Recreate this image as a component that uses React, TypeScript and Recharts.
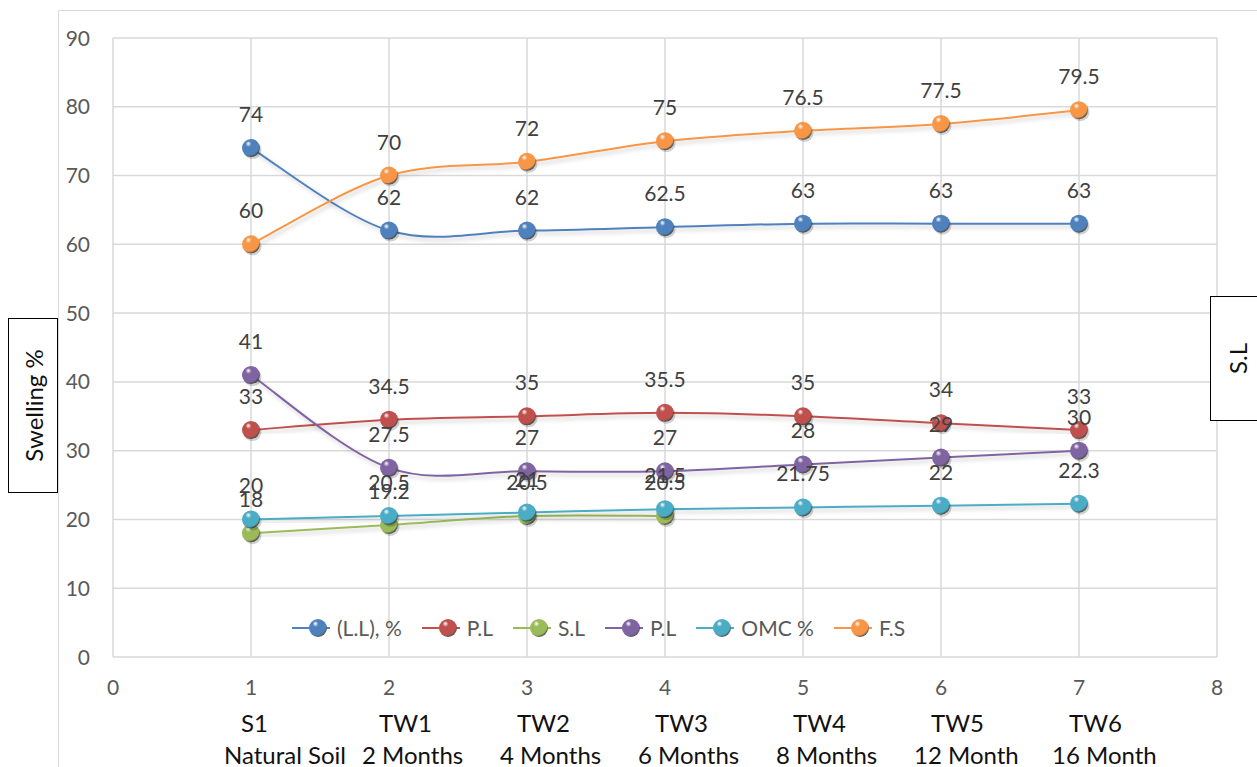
import React from "react";
import { CartesianGrid, LabelList, Legend, Line, LineChart, XAxis, YAxis } from "recharts";

const stages = [1, 2, 3, 4, 5, 6, 7];
const stageCodes = ["S1", "TW1", "TW2", "TW3", "TW4", "TW5", "TW6"];
const stageAges = ["Natural Soil", "2 Months", "4 Months", "6 Months", "8 Months", "12 Month", "16 Month"];

const liquidLimit = [74, 62, 62, 62.5, 63, 63, 63];
const plasticLimit = [33, 34.5, 35, 35.5, 35, 34, 33];
const shrinkageLimit = [18, 19.2, 20.5, 20.5];
const plasticLimitB = [41, 27.5, 27, 27, 28, 29, 30];
const omc = [20, 20.5, 21, 21.5, 21.75, 22, 22.3];
const freeSwell = [60, 70, 72, 75, 76.5, 77.5, 79.5];

const xTicks = [0, 1, 2, 3, 4, 5, 6, 7, 8];
const yTicks = [0, 10, 20, 30, 40, 50, 60, 70, 80, 90];

const FONT = "Lato, 'Open Sans', sans-serif";

const series = [
  { key: "ll", name: "(L.L), %", color: "#4F81BD", values: liquidLimit },
  { key: "pl", name: "P.L", color: "#C0504D", values: plasticLimit },
  { key: "sl", name: "S.L", color: "#9BBB59", values: shrinkageLimit },
  { key: "pl2", name: "P.L", color: "#8064A2", values: plasticLimitB },
  { key: "omc", name: "OMC %", color: "#4BACC6", values: omc },
  { key: "fs", name: "F.S", color: "#F79646", values: freeSwell },
];

const rows = stages.map((x, i) => {
  const row: Record<string, number | null> = { x };
  series.forEach((s) => {
    row[s.key] = s.values[i] ?? null;
  });
  return row;
});

// smooth line through the points (catmull-rom style bezier)
const smoothCurve = (ctx: any) => {
  let pts: number[][] = [];
  return {
    areaStart() {},
    areaEnd() {},
    lineStart() {
      pts = [];
    },
    point(x: number, y: number) {
      pts.push([+x, +y]);
    },
    lineEnd() {
      if (!pts.length) return;
      ctx.moveTo(pts[0][0], pts[0][1]);
      for (let i = 0; i < pts.length - 1; i++) {
        const p0 = pts[Math.max(i - 1, 0)];
        const p1 = pts[i];
        const p2 = pts[i + 1];
        const p3 = pts[Math.min(i + 2, pts.length - 1)];
        ctx.bezierCurveTo(
          p1[0] + (p2[0] - p0[0]) / 6,
          p1[1] + (p2[1] - p0[1]) / 6,
          p2[0] - (p3[0] - p1[0]) / 6,
          p2[1] - (p3[1] - p1[1]) / 6,
          p2[0],
          p2[1]
        );
      }
    },
  };
};

const Ball = ( { cx, cy, id, r = 9 } ) => (
  <g>
    <circle cx={cx + 1.5} cy={cy + 2} r={r} fill="rgba(0,0,0,0.18)" />
    <circle cx={cx} cy={cy} r={r} fill={`url(#ball-${id})`} />
  </g>
);

const XTick = ( { x, y, payload } ) => {
  const i = stages.indexOf(payload.value);
  return (
    <g>
      <text x={x} y={y + 38} textAnchor="middle" fill="#595959" fontSize={21} fontFamily={FONT}>
        {payload.value}
      </text>
      {i >= 0 && (
        <>
          <text x={x - 10} y={y + 75} fill="#111" fontSize={24} fontWeight={400} fontFamily={FONT}>
            {stageCodes[i]}
          </text>
          <text x={x - 27} y={y + 107} fill="#111" fontSize={24} fontWeight={400} fontFamily={FONT}>
            {stageAges[i]}
          </text>
        </>
      )}
    </g>
  );
};

const YTick = ( { x, y, payload } ) => (
  <text x={x} y={y} dy="0.36em" textAnchor="end" fill="#595959" fontSize={21} fontFamily={FONT}>
    {payload.value}
  </text>
);

const ValueLabel = ( { x, y, value } ) => {
  if (value === null || value === undefined) return null;
  return (
    <text x={x} y={y - 26} textAnchor="middle" fill="#404040" fontSize={21} fontFamily={FONT}>
      {value}
    </text>
  );
};

const LegendContent = () => (
  <div style={{ display: "flex", alignItems: "center", fontFamily: FONT, fontSize: 21, color: "#595959" }}>
    {series.map((s) => (
      <div key={s.key} style={{ display: "flex", alignItems: "center", marginRight: 20 }}>
        <svg width={38} height={22} style={{ overflow: "visible" }}>
          <line x1={0} y1={11} x2={38} y2={11} stroke={s.color} strokeWidth={2} />
          <circle cx={26} cy={11} r={9} fill={`url(#ball-${s.key})`} />
        </svg>
        <span style={{ marginLeft: 7 }}>{s.name}</span>
      </div>
    ))}
  </div>
);

const boxStyle: React.CSSProperties = {
  position: "absolute",
  background: "#fff",
  border: "1px solid #000",
  display: "flex",
  alignItems: "center",
  justifyContent: "center",
  fontFamily: FONT,
  fontSize: 24,
  color: "#111",
};

export default function App() {
  return (
    <div style={{ position: "absolute", left: 0, top: 0, width: 1257, height: 767, overflow: "hidden", background: "#fff" }}>
      <div style={{ position: "absolute", left: 58, top: 10, width: 1400, height: 900, border: "1px solid #D9D9D9" }} />
      <LineChart width={1257} height={767} data={rows} margin={{ top: 38, right: 40, bottom: 0, left: 60 }} style={{ position: "absolute", left: 0, top: 0 }}>
        <defs>
          {series.map((s) => (
            <radialGradient key={s.key} id={`ball-${s.key}`} cx="40%" cy="35%" r="65%" fx="35%" fy="25%">
              <stop offset="0%" stopColor="#ffffff" stopOpacity={0.9} />
              <stop offset="25%" stopColor={s.color} />
              <stop offset="85%" stopColor={s.color} />
              <stop offset="100%" stopColor="#333" stopOpacity={0.8} />
            </radialGradient>
          ))}
          <filter id="lineShadow" x="-5%" y="-20%" width="110%" height="140%">
            <feDropShadow dx="2" dy="3" stdDeviation="2" floodColor="#000" floodOpacity="0.2" />
          </filter>
        </defs>
        <CartesianGrid stroke="#D9D9D9" strokeWidth={1.5} />
        <XAxis
          type="number"
          dataKey="x"
          domain={[0, 8]}
          ticks={xTicks}
          interval={0}
          axisLine={false}
          tickLine={false}
          tickSize={0}
          tickMargin={0}
          height={110}
          tick={XTick}
        />
        <YAxis
          type="number"
          domain={[0, 90]}
          ticks={yTicks}
          interval={0}
          axisLine={false}
          tickLine={false}
          tickSize={0}
          tickMargin={23}
          width={53}
          tick={YTick}
        />
        <Legend
          layout="horizontal"
          verticalAlign="middle"
          align="center"
          content={LegendContent}
          wrapperStyle={{ top: 615, left: 292, width: "auto" }}
        />
        {series.map((s) => (
          <Line
            key={s.key}
            dataKey={s.key}
            name={s.name}
            type={smoothCurve}
            stroke={s.color}
            strokeWidth={2}
            filter="url(#lineShadow)"
            connectNulls={false}
            isAnimationActive={false}
            dot={(p: any) => (p.value === null || p.value === undefined ? <g key={p.index} /> : <Ball key={p.index} cx={p.cx} cy={p.cy} id={s.key} />)}
            activeDot={false}
          >
            <LabelList dataKey={s.key} content={ValueLabel} />
          </Line>
        ))}
      </LineChart>
      <div style={{ ...boxStyle, left: 8, top: 318, width: 48, height: 173 }}>
        <span style={{ transform: "rotate(-90deg)", whiteSpace: "nowrap" }}>Swelling %</span>
      </div>
      <div style={{ ...boxStyle, left: 1210, top: 296, width: 60, height: 125, justifyContent: "flex-start", paddingLeft: 11, boxSizing: "border-box" }}>
        <span style={{ transform: "rotate(-90deg)", whiteSpace: "nowrap" }}>S.L</span>
      </div>
    </div>
  );
}
